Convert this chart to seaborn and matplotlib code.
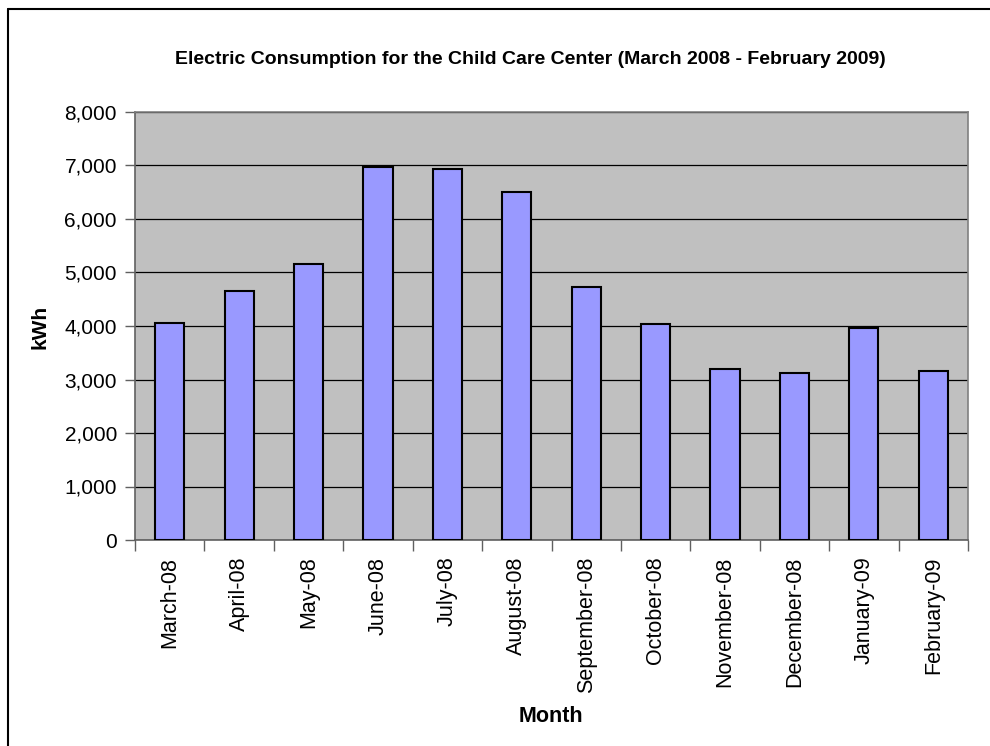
import matplotlib
matplotlib.use("Agg")
import matplotlib.pyplot as plt
from matplotlib.lines import Line2D
from matplotlib.ticker import FuncFormatter, FixedLocator
import seaborn as sns
import pandas as pd

months = ["March-08", "April-08", "May-08", "June-08", "July-08", "August-08",
          "September-08", "October-08", "November-08", "December-08",
          "January-09", "February-09"]
kwh = [4060, 4660, 5160, 6970, 6940, 6500, 4720, 4030, 3190, 3130, 3960, 3160]
y_ticks = [0, 1000, 2000, 3000, 4000, 5000, 6000, 7000, 8000]

df = pd.DataFrame({"Month": months, "kWh": kwh})

sns.set_theme(style="white")
plt.rcParams["font.family"] = ["Liberation Sans", "DejaVu Sans"]
plt.rcParams["text.color"] = "black"
plt.rcParams["xtick.color"] = "black"
plt.rcParams["ytick.color"] = "black"

W, H = 990, 746
fig = plt.figure(figsize=(W / 100, H / 100), dpi=100)
fig.patch.set_facecolor("white")

left, right, top, bottom = 135, 968, 112, 540
ax = fig.add_axes([left / W, (H - bottom) / H, (right - left) / W, (bottom - top) / H])
ax.set_facecolor("#C0C0C0")

sns.barplot(data=df, x="Month", y="kWh", color="#9999FF", saturation=1,
            edgecolor="black", linewidth=1.5, width=0.42, ax=ax, zorder=3)

ax.set_xlim(-0.5, len(months) - 0.5)
ax.set_ylim(0, 8000)
ax.set_yticks(y_ticks)
ax.yaxis.set_major_formatter(FuncFormatter(lambda v, p: f"{int(v):,}"))
ax.grid(axis="y", color="black", linewidth=0.9, zorder=1)
ax.set_axisbelow(True)

ax.set_xticks(range(len(months)))
ax.set_xticklabels(months, rotation=90, fontsize=15.5)
ax.xaxis.set_minor_locator(FixedLocator([i - 0.5 for i in range(len(months) + 1)]))
ax.tick_params(axis="x", which="major", length=0, pad=12, labelcolor="black")
ax.tick_params(axis="x", which="minor", length=8, width=1, color="#606060", bottom=True)
ax.tick_params(axis="y", which="major", length=7, width=1, color="#606060",
               labelsize=15, pad=6, left=True, labelcolor="black")

for side in ("left", "bottom"):
    ax.spines[side].set_color("#606060")
    ax.spines[side].set_linewidth(1.2)
for side in ("top", "right"):
    ax.spines[side].set_color("#808080")
    ax.spines[side].set_linewidth(1.2)

ax.set_xlabel("")
ax.set_ylabel("")

fig.text(530 / W, 1 - 60 / H,
         "Electric Consumption for the Child Care Center (March 2008 - February 2009)",
         ha="center", va="center", fontsize=14, fontweight="bold", color="black")
fig.text(40 / W, 1 - 327 / H, "kWh", rotation=90, ha="center", va="center",
         fontsize=15, fontweight="bold", color="black")
fig.text(551 / W, 1 - 717 / H, "Month", ha="center", va="center",
         fontsize=15.5, fontweight="bold", color="black")

# chart frame: top and left edges
fig.add_artist(Line2D([8 / W, 1], [1 - 9 / H, 1 - 9 / H], transform=fig.transFigure,
                      color="black", linewidth=1.5))
fig.add_artist(Line2D([8 / W, 8 / W], [1 - 9 / H, 0], transform=fig.transFigure,
                      color="black", linewidth=1.5))

fig.savefig("out.png", dpi=100)
